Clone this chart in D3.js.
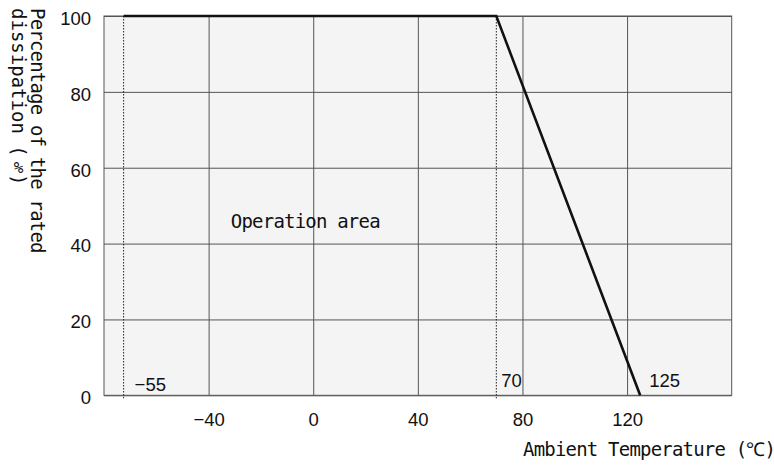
<!DOCTYPE html>
<html>
<head>
<meta charset="utf-8">
<script src="https://cdn.jsdelivr.net/npm/d3@7"></script>
<style>
  body { margin: 0; background: #fff; }
  svg { display: block; }
  .mono { font-family: "DejaVu Sans Mono", monospace; font-size: 19px; letter-spacing: -0.8px; fill: #111; }
  .num { font-family: "Liberation Sans", Arial, sans-serif; font-size: 18.5px; fill: #111; }
</style>
</head>
<body>
<svg id="chart" width="774" height="467"></svg>
<script>
// derating curve: temperature (°C) vs % of rated dissipation
// the -55 marker sits near the plot edge in the original drawing
const curveTemp = [-72.5, 70, 125];
const curvePct = [100, 100, 0];

const tempTicks = [-40, 0, 40, 80, 120];
const pctTicks = [0, 20, 40, 60, 80, 100];

const markerTemp = [-72.5, 70];
const labelTemp = [-72.5, 70, 125];
const labelText = ['\u221255', '70', '125'];

const margin = {left: 104, top: 16, right: 42.3, bottom: 71.7};
const W = 774, H = 467;
const w = W - margin.left - margin.right;
const h = H - margin.top - margin.bottom;

const svg = d3.select('#chart');
const g = svg.append('g')
    .attr('transform', `translate(${margin.left},${margin.top})`);

const x = d3.scaleLinear().domain([-80, 160]).range([0, w]);
const y = d3.scaleLinear().domain([0, 100]).range([h, 0]);

g.append('rect')
    .attr('width', w)
    .attr('height', h)
    .attr('fill', '#f4f4f4');

// grid
g.append('g')
    .attr('transform', `translate(0,${h})`)
    .call(d3.axisBottom(x).tickValues(tempTicks).tickSize(-h).tickFormat(''))
    .call(s => s.select('.domain').remove())
    .selectAll('line').attr('stroke', '#555');

g.append('g')
    .call(d3.axisLeft(y).tickValues(pctTicks).tickSize(-w).tickFormat(''))
    .call(s => s.select('.domain').remove())
    .selectAll('line').attr('stroke', '#555');

g.append('rect')
    .attr('width', w)
    .attr('height', h)
    .attr('fill', 'none')
    .attr('stroke', '#555');

// tick labels
const yAx = g.append('g')
    .call(d3.axisLeft(y).tickValues(pctTicks).tickSize(0).tickPadding(13));
yAx.select('.domain').remove();
yAx.selectAll('text').attr('class', 'num').attr('dy', '0.45em').style('font', null);

const xAx = g.append('g')
    .attr('transform', `translate(0,${h})`)
    .call(d3.axisBottom(x).tickValues(tempTicks).tickSize(0).tickPadding(18)
      .tickFormat(d => String(d).replace('-', '\u2212')));
xAx.select('.domain').remove();
xAx.selectAll('text').attr('class', 'num').style('font', null);

// dotted markers
g.selectAll('.marker')
  .data(markerTemp)
  .join('line')
    .attr('class', 'marker')
    .attr('x1', d => x(d)).attr('x2', d => x(d))
    .attr('y1', y(100)).attr('y2', h + 3)
    .attr('stroke', '#222')
    .attr('stroke-width', 1)
    .attr('stroke-dasharray', '1.5,1.5');

// curve
const line = d3.line()
    .x(d => x(d[0]))
    .y(d => y(d[1]));

g.append('path')
    .datum(d3.zip(curveTemp, curvePct))
    .attr('fill', 'none')
    .attr('stroke', '#111')
    .attr('stroke-width', 2.6)
    .attr('d', line);

// marker labels
g.selectAll('.mlabel')
  .data(labelTemp)
  .join('text')
    .attr('class', 'num')
    .attr('x', (d, i) => x(d) + [11, 5, 9][i])
    .attr('y', (d, i) => h - [4.5, 8.5, 8.5][i])
    .text((d, i) => labelText[i]);

g.append('text')
    .attr('class', 'mono')
    .attr('x', x(-31.5))
    .attr('y', 211.5)
    .text('Operation area');

// axis titles
svg.append('text')
    .attr('class', 'mono')
    .attr('x', 523)
    .attr('y', 456)
    .text('Ambient Temperature (\u2103)');

svg.append('text')
    .attr('class', 'mono')
    .attr('transform', 'translate(31,8) rotate(90)')
    .text('Percentage of the rated');

svg.append('text')
    .attr('class', 'mono')
    .style('letter-spacing', '0px')
    .attr('transform', 'translate(12,8) rotate(90)')
    .text('dissipation (');

svg.append('text')
    .attr('class', 'mono')
    .style('font-size', '16px')
    .style('letter-spacing', '0px')
    .attr('x', 18.5)
    .attr('y', 173)
    .attr('text-anchor', 'middle')
    .text('%');

svg.append('text')
    .attr('class', 'mono')
    .attr('transform', 'translate(12,174) rotate(90)')
    .text(')');
</script>
</body>
</html>
